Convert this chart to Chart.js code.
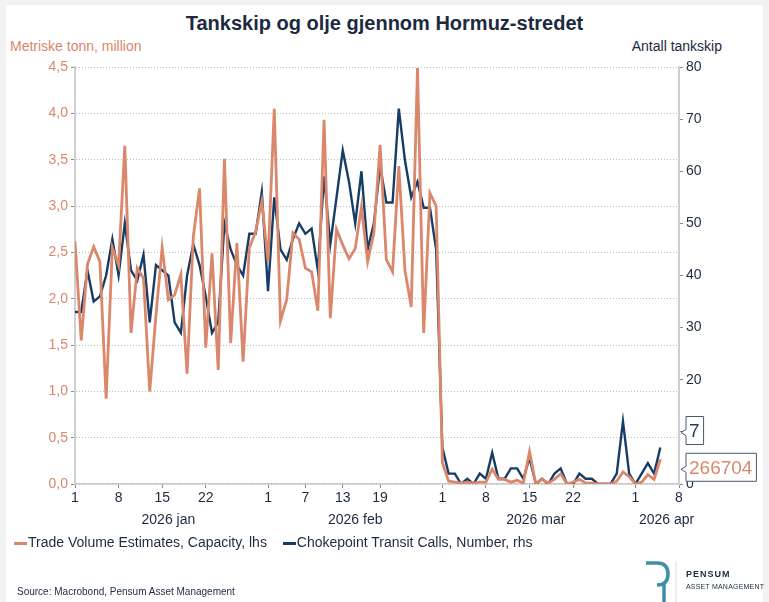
<!DOCTYPE html>
<html>
<head>
<meta charset="UTF-8">
<title>Tankskip og olje gjennom Hormuz-stredet</title>
<script src="https://cdn.jsdelivr.net/npm/chart.js"></script>
<style>
  body { margin: 0; background: #f2f2f2; font-family: "Liberation Sans", Arial, sans-serif; }
  .card { position: absolute; left: 6px; top: 5px; width: 757px; height: 597px; background: #fff; }
  #chart { position: absolute; left: 0; top: 0; }
  .title { position: absolute; left: 0; width: 769px; top: 12px; text-align: center;
           font-size: 20px; font-weight: bold; color: #1c2a40; }
  .axis-title { position: absolute; top: 38px; font-size: 14px; }
  .legend { position: absolute; left: 14px; top: 534px; font-size: 14px; color: #1c2a40; }
  .legend span { margin-right: 12px; }
  .legend i { display: inline-block; width: 13px; height: 3px; vertical-align: middle; margin-right: 1px; }
  .source { position: absolute; left: 17px; top: 586px; font-size: 10px; color: #1c2a40; }
  .brand { position: absolute; left: 686px; font-size: 9px; color: #1c2a40; letter-spacing: 1px; }
</style>
</head>

<body>
<div class="card"></div>
<div class="title">Tankskip og olje gjennom Hormuz-stredet</div>
<div class="axis-title" style="left:10px; color:#d9866b;">Metriske tonn, million</div>
<div class="axis-title" style="right:47px; color:#1c2a40;">Antall tankskip</div>

<canvas id="chart" width="769" height="602"></canvas>

<div class="legend">
  <span><i style="background:#d9866b"></i>Trade Volume Estimates, Capacity, lhs</span>
  <span><i style="background:#173d66"></i>Chokepoint Transit Calls, Number, rhs</span>
</div>
<div class="source">Source: Macrobond, Pensum Asset Management</div>

<svg style="position:absolute; left:640px; top:558px" width="50" height="44">
  <path d="M6 5 H17 Q28 5 28 16 Q28 27 17 27" fill="none" stroke="#3f8fab" stroke-width="3.5"/>
  <path d="M24 24 V44" fill="none" stroke="#3f8fab" stroke-width="3.5"/>
  <line x1="36" y1="3" x2="36" y2="44" stroke="#dddddd" stroke-width="1"/>
</svg>
<div class="brand" style="top:569px; font-weight:bold;">PENSUM</div>
<div class="brand" style="top:583px; font-size:7px; letter-spacing:0.2px;">ASSET MANAGEMENT</div>

<script>
    // første dag i serien, daglige observasjoner
    const startDate = '2026-01-01';
    const axisEndDate = '2026-04-08';

    // Trade Volume Estimates, Capacity (millioner tonn), venstre akse
    const tradeVolume = [
        2.62, 1.55, 2.37, 2.56, 2.40, 0.92, 2.55, 2.36, 3.65, 1.63,
        2.33, 2.22, 1.00, 1.82, 2.55, 1.99, 2.04, 2.26, 1.19, 2.67,
        3.19, 1.47, 2.49, 1.23, 3.51, 1.52, 2.60, 1.32, 2.55, 2.72,
        3.05, 2.40, 4.05, 1.76, 1.99, 2.71, 2.64, 2.33, 2.29, 1.87,
        3.93, 1.79, 2.75, 2.58, 2.43, 2.54, 2.99, 2.40, 2.71, 3.66,
        2.42, 2.29, 3.43, 2.30, 1.91, 4.49, 1.63, 3.14, 3.00,
        0.23, 0.03, 0.02, 0.01, 0.02, 0.01, 0.02, 0.02, 0.16, 0.05,
        0.05, 0.02, 0.04, 0.01, 0.35, 0.00, 0.05, 0.01, 0.05, 0.11,
        0.00, 0.02, 0.05, 0.01, 0.01, 0.00, 0.00, 0.00, 0.03, 0.13,
        0.08, 0.00, 0.02, 0.10, 0.05, 0.266704
    ];

    // Chokepoint Transit Calls (antall), høyre akse
    const transitCalls = [
        33, 33, 41, 35, 36, 40, 47, 40, 50, 41,
        39, 44, 31, 42, 41, 40, 31, 29, 40, 46,
        42, 36, 29, 31, 50, 45, 42, 40, 48, 48,
        56, 37, 55, 45, 43, 47, 50, 48, 49, 41,
        59, 46, 55, 64, 58, 50, 60, 45, 50, 61,
        54, 54, 72, 62, 55, 58, 53, 53, 45,
        7, 2, 2, 0, 1, 0, 2, 1, 6, 1,
        1, 3, 3, 1, 5, 0, 1, 0, 2, 3,
        0, 0, 2, 1, 1, 0, 0, 0, 2, 12,
        2, 0, 2, 4, 2, 7
    ];

    const dayTickDates = [
        '2026-01-01', '2026-01-08', '2026-01-15', '2026-01-22',
        '2026-02-01', '2026-02-07', '2026-02-13', '2026-02-19',
        '2026-03-01', '2026-03-08', '2026-03-15', '2026-03-22',
        '2026-04-01', '2026-04-08'
    ];
    const monthLabels = ['2026 jan', '2026 feb', '2026 mar', '2026 apr'];
    const monthLabelDates = ['2026-01-16', '2026-02-15', '2026-03-16', '2026-04-06'];

    const leftTicks = [0, 0.5, 1, 1.5, 2, 2.5, 3, 3.5, 4, 4.5];
    const rightTicks = [0, 10, 20, 30, 40, 50, 60, 70, 80];

    const orange = '#da876c';
    const navy = '#173d66';
    const textNavy = '#1c2a40';

    // dag-nummer fra startdato
    function dayIndex(s) {
        return Math.round((Date.parse(s) - Date.parse(startDate)) / 86400000);
    }
    function dateOf(i) {
        return new Date(Date.parse(startDate) + i * 86400000);
    }
    const axisEnd = dayIndex(axisEndDate);

    Chart.defaults.font.family = '"Liberation Sans", Arial, sans-serif';
    Chart.defaults.font.size = 14;

    // boks med siste verdi til høyre
    function drawTag(ctx, x, yc, text, color) {
        ctx.save();
        ctx.font = '19px "Liberation Sans", Arial, sans-serif';
        const w = ctx.measureText(text).width + 7;
        const h = 28;
        const top = yc - h / 2;
        ctx.beginPath();
        ctx.moveTo(x + 5, top);
        ctx.lineTo(x + 5 + w, top);
        ctx.lineTo(x + 5 + w, top + h);
        ctx.lineTo(x + 5, top + h);
        ctx.lineTo(x + 5, yc + 5);
        ctx.lineTo(x, yc + 2);
        ctx.lineTo(x + 5, yc - 1);
        ctx.closePath();
        ctx.fillStyle = '#fff';
        ctx.fill();
        ctx.strokeStyle = '#4a5a70';
        ctx.lineWidth = 1;
        ctx.stroke();
        ctx.fillStyle = color;
        ctx.textBaseline = 'middle';
        ctx.fillText(text, x + 8, yc + 1);
        ctx.restore();
    }

    const lastValuePlugin = {
        id: 'lastValue',
        afterDraw(chart) {
            const ctx = chart.ctx;
            const x = chart.chartArea.right + 2;
            const lastCalls = transitCalls[transitCalls.length - 1];
            const lastVol = tradeVolume[tradeVolume.length - 1];
            drawTag(ctx, x, chart.scales.y1.getPixelForValue(lastCalls) - 17, String(lastCalls), navy);
            drawTag(ctx, x, chart.scales.y.getPixelForValue(lastVol) + 8, String(Math.round(lastVol * 1e6)), orange);
        }
    };

    const config = {
        type: 'line',
        data: {
            datasets: [{
                label: 'Trade Volume Estimates, Capacity, lhs',
                data: tradeVolume.map((v, i) => ({ x: i, y: v })),
                yAxisID: 'y',
                borderColor: orange,
                borderWidth: 2.8,
                pointRadius: 0,
                tension: 0
            }, {
                label: 'Chokepoint Transit Calls, Number, rhs',
                data: transitCalls.map((v, i) => ({ x: i, y: v })),
                yAxisID: 'y1',
                borderColor: navy,
                borderWidth: 2.4,
                pointRadius: 0,
                tension: 0
            }]
        },
        options: {
            responsive: false,
            animation: false,
            devicePixelRatio: 1,
            layout: { padding: { left: 0, right: 0, top: 67, bottom: 72 } },
            plugins: { legend: { display: false }, tooltip: { enabled: false } },
            scales: {
                x: {
                    type: 'linear',
                    position: 'bottom',
                    weight: 0,
                    min: 0,
                    max: axisEnd,
                    afterBuildTicks: s => { s.ticks = dayTickDates.map(d => ({ value: dayIndex(d) })); },
                    afterFit: s => { s.height = 22; },
                    ticks: {
                        autoSkip: false,
                        maxRotation: 0,
                        padding: 2,
                        color: textNavy,
                        callback: v => String(dateOf(v).getUTCDate())
                    },
                    grid: { drawOnChartArea: false, tickLength: 4, tickColor: '#888', tickWidth: 1 },
                    border: { display: true, color: '#c8c8c8', width: 1.5 }
                },
                x2: {
                    type: 'linear',
                    position: 'bottom',
                    weight: 1,
                    min: 0,
                    max: axisEnd,
                    afterBuildTicks: s => { s.ticks = monthLabelDates.map(d => ({ value: dayIndex(d) })); },
                    afterFit: s => { s.height = 24; },
                    ticks: {
                        autoSkip: false,
                        maxRotation: 0,
                        padding: 6,
                        color: textNavy,
                        callback: (v, i) => monthLabels[i]
                    },
                    grid: { display: false, drawTicks: false },
                    border: { display: false }
                },
                y: {
                    position: 'left',
                    min: leftTicks[0],
                    max: leftTicks[leftTicks.length - 1],
                    afterBuildTicks: s => { s.ticks = leftTicks.map(v => ({ value: v })); },
                    afterFit: s => { s.width = 75; },
                    ticks: {
                        color: orange,
                        padding: 3,
                        callback: v => v.toFixed(1).replace('.', ',')
                    },
                    grid: { color: '#bcbcbc', lineWidth: 1, tickLength: 4, tickColor: '#888', tickWidth: 1 },
                    border: { display: true, color: '#cfcfcf', width: 2, dash: [1, 2] }
                },
                y1: {
                    position: 'right',
                    min: rightTicks[0],
                    max: rightTicks[rightTicks.length - 1],
                    afterBuildTicks: s => { s.ticks = rightTicks.map(v => ({ value: v })); },
                    afterFit: s => { s.width = 90; },
                    ticks: { color: textNavy, padding: 3 },
                    grid: { drawOnChartArea: false, tickLength: 4, tickColor: '#888', tickWidth: 1 },
                    border: { display: true, color: '#cfcfcf', width: 2 }
                }
            }
        },
        plugins: [lastValuePlugin]
    };

    new Chart(document.getElementById('chart'), config);
</script>
</body>
</html>
